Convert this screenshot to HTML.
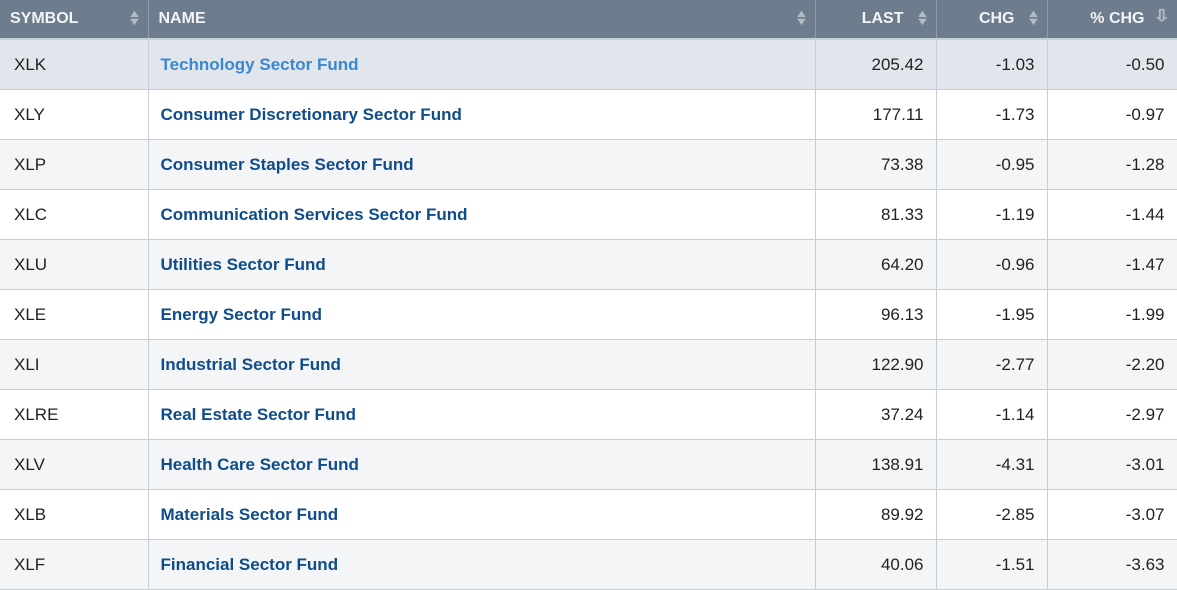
<!DOCTYPE html>
<html><head><meta charset="utf-8"><style>
body{margin:0;width:1177px;height:577px;overflow:hidden;background:#fff;font-family:"Liberation Sans",sans-serif;}
table{border-collapse:collapse;table-layout:fixed;width:1177px;}
th{background:#6e7d8e;color:#f2f4f6;font-size:16px;font-weight:bold;height:38px;padding:0 10px;text-align:left;border-right:1px solid #8e9aa8;border-bottom:2px solid #c5cfd9;position:relative;}
th.r{text-align:right;padding-right:32px;}
th .s{position:absolute;right:8px;top:10px;font-size:11px;line-height:8px;color:#b3bcc6;transform:scaleX(1.3);}
td{height:49px;border-bottom:1px solid #c5cfd9;border-right:1px solid #c5cfd9;font-size:17px;color:#222;padding:0 12px;}
td.sym{padding-left:14px;}
td.num{text-align:right;}
td.nm{color:#0f4c8a;font-weight:bold;}
tr.hl td{background:#e0e6ec;}
tr.hl td.nm{color:#3a87d3;}
tr.alt td{background:#f3f5f7;}
</style></head><body>
<table>
<colgroup><col style="width:148px"><col style="width:667px"><col style="width:121px"><col style="width:111px"><col style="width:130px"></colgroup>
<thead><tr>
<th>SYMBOL<span class="s">▲<br>▼</span></th>
<th>NAME<span class="s">▲<br>▼</span></th>
<th class="r">LAST<span class="s">▲<br>▼</span></th>
<th class="r">CHG<span class="s">▲<br>▼</span></th>
<th class="r">% CHG<span class="s" style="font-size:16px;top:9px;line-height:16px">⇩</span></th>
</tr></thead>
<tbody id="tb"></tbody>
</table>
<script>
const symbols=["XLK","XLY","XLP","XLC","XLU","XLE","XLI","XLRE","XLV","XLB","XLF"];
const names=["Technology Sector Fund","Consumer Discretionary Sector Fund","Consumer Staples Sector Fund","Communication Services Sector Fund","Utilities Sector Fund","Energy Sector Fund","Industrial Sector Fund","Real Estate Sector Fund","Health Care Sector Fund","Materials Sector Fund","Financial Sector Fund"];
const last=["205.42","177.11","73.38","81.33","64.20","96.13","122.90","37.24","138.91","89.92","40.06"];
const chg=["-1.03","-1.73","-0.95","-1.19","-0.96","-1.95","-2.77","-1.14","-4.31","-2.85","-1.51"];
const pct=["-0.50","-0.97","-1.28","-1.44","-1.47","-1.99","-2.20","-2.97","-3.01","-3.07","-3.63"];
const tb=document.getElementById('tb');
symbols.forEach((s,i)=>{
const tr=document.createElement('tr');
tr.className=i===0?'hl':(i%2===0?'alt':'');


const vals=[[s,'sym','symbol-cell'],[names[i],'nm','name-link'],[last[i],'num','last-cell'],[chg[i],'num','chg-cell'],[pct[i],'num','pct-chg-cell']];
vals.forEach(v=>{const td=document.createElement('td');td.className=v[1];td.textContent=v[0];


tr.appendChild(td);});
tb.appendChild(tr);
});
</script>
</body></html>
